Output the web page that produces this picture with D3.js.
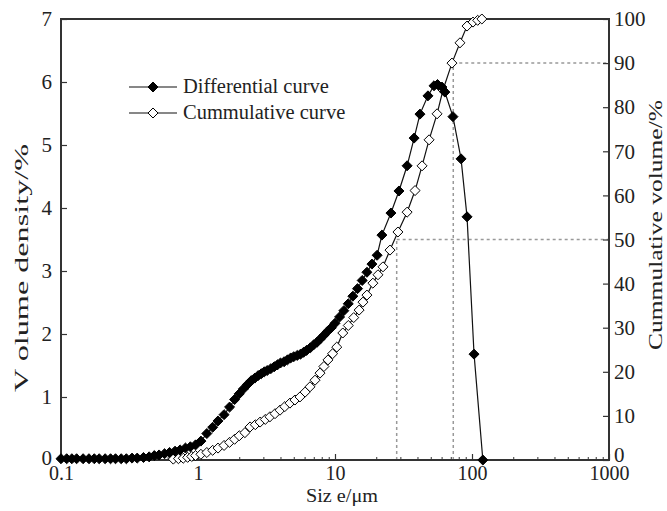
<!DOCTYPE html>
<html>
<head>
<meta charset="utf-8">
<title>Particle size distribution</title>
<script src="https://d3js.org/d3.v7.min.js"></script>
<style>
  body { margin: 0; background: #fff; }
  svg text { font-family: "Liberation Serif", "Times New Roman", serif; fill: #222; }
</style>
</head>
<body>
<div id="chart"></div>
<script>
// ---- data ----
var diffSize = [0.10, 0.11, 0.12, 0.13, 0.145, 0.16, 0.175, 0.19, 0.21, 0.23, 0.25, 0.275, 0.30, 0.33, 0.36,
  0.40, 0.44, 0.48, 0.52, 0.57, 0.62, 0.68, 0.74, 0.81, 0.88, 0.96, 1.05, 1.16, 1.28, 1.40, 1.55, 1.70,
  1.85, 2.00, 2.15, 2.30, 2.45, 2.60, 2.75, 2.90, 3.05, 3.20, 3.40, 3.60, 3.80, 4.00, 4.25, 4.50, 4.75,
  5.00, 5.30, 5.60, 5.90, 6.20, 6.60, 7.00, 7.40, 7.80, 8.30, 8.80, 9.40, 10.0, 10.8, 11.6, 12.5, 13.5,
  14.6, 15.8, 17.1, 18.6, 20.3, 22.0, 25.6, 29.3, 33.6, 37.8, 41.7, 47.7, 52.8, 56.0, 60.3, 63.4, 72.6,
  83.2, 92.0, 103.5, 120];
var diffValue = [0.02, 0.02, 0.02, 0.02, 0.02, 0.02, 0.02, 0.02, 0.02, 0.02, 0.02, 0.02, 0.02, 0.03, 0.03,
  0.04, 0.05, 0.07, 0.08, 0.10, 0.12, 0.14, 0.16, 0.19, 0.21, 0.24, 0.30, 0.42, 0.52, 0.62, 0.72, 0.84,
  0.96, 1.05, 1.13, 1.20, 1.26, 1.30, 1.34, 1.37, 1.40, 1.42, 1.45, 1.48, 1.51, 1.54, 1.56, 1.59, 1.62,
  1.64, 1.66, 1.68, 1.71, 1.74, 1.78, 1.83, 1.87, 1.92, 1.98, 2.04, 2.10, 2.17, 2.27, 2.37, 2.48, 2.60,
  2.72, 2.85, 2.98, 3.11, 3.25, 3.57, 3.92, 4.27, 4.67, 5.11, 5.49, 5.78, 5.94, 5.96, 5.92, 5.84, 5.45,
  4.78, 3.86, 1.68, 0.0];

var cumSize = [0.66, 0.72, 0.78, 0.84, 0.90, 0.96, 1.05, 1.16, 1.28, 1.40, 1.55, 1.70, 1.85, 2.00, 2.20,
  2.40, 2.62, 2.84, 3.10, 3.35, 3.65, 3.97, 4.30, 4.69, 5.10, 5.55, 6.05, 6.57, 7.15, 7.77, 8.30, 8.89,
  9.60, 10.3, 11.4, 12.5, 13.7, 15.0, 16.0, 17.1, 18.9, 20.6, 22.4, 25.2, 28.8, 33.6, 38.4, 43.2, 48.6,
  55.6, 61.4, 71.4, 81.7, 92.0, 101.7, 110, 118];
var cumValue = [0.2, 0.3, 0.4, 0.6, 0.8, 1.0, 1.3, 1.7, 2.2, 2.7, 3.3, 4.0, 4.7, 5.5, 6.2,
  7.5, 8.0, 8.6, 9.2, 9.8, 10.5, 11.3, 12.1, 12.9, 13.6, 14.3, 15.4, 16.6, 18.1, 19.7, 21.2, 22.7,
  24.1, 25.6, 28.8, 30.5, 32.3, 34.0, 35.8, 37.4, 40.1, 42.0, 43.8, 47.6, 51.7, 56.2, 61.1, 66.7, 72.6,
  78.5, 83.9, 90.0, 94.6, 98.4, 99.3, 99.7, 100];

var xTickValues = [0.1, 1, 10, 100, 1000];
var leftTicks = [0, 1, 2, 3, 4, 5, 6, 7];
var rightTicks = [0, 10, 20, 30, 40, 50, 60, 70, 80, 90, 100];
var refSize = [28.2, 73];     // d50, d90
var refCum = [50, 90];
var legendNames = ["Differential curve", "Cummulative curve"];

// ---- layout ----
var W = 667, H = 511;
var plotL = 61, plotR = 609, plotT = 19, plotB = 460;

var svg = d3.select("#chart").append("svg").attr("width", W).attr("height", H);

var x = d3.scaleLog().domain([0.1, 1000]).range([plotL, plotR]);
var yL = d3.scaleLinear().domain([0, 7]).range([plotB, plotT]);
var yR = d3.scaleLinear().domain([0, 100]).range([plotB, plotT]);

// dashed reference lines (d50, d90)
var refs = refSize.map(function (s, i) { return {s: s, c: refCum[i]}; });
var refG = svg.append("g").attr("stroke", "#999").attr("stroke-width", 1.5)
  .attr("stroke-dasharray", "3,3").attr("fill", "none");
refs.forEach(function (r) {
  refG.append("line").attr("x1", x(r.s)).attr("x2", x(r.s)).attr("y1", yR(0)).attr("y2", yR(r.c));
  refG.append("line").attr("x1", x(r.s)).attr("x2", plotR).attr("y1", yR(r.c)).attr("y2", yR(r.c));
});

// axes
var minor = x.ticks().filter(function (t) { return xTickValues.indexOf(t) < 0; });
svg.append("g").attr("transform", "translate(0," + plotB + ")")
  .call(d3.axisBottom(x).tickValues(minor).tickSize(-3).tickFormat(""))
  .call(function (g) { g.select(".domain").remove(); g.selectAll("line").attr("stroke", "#333"); });

var xAxis = svg.append("g").attr("transform", "translate(0," + plotB + ")")
  .call(d3.axisBottom(x).tickValues(xTickValues).tickSize(-6).tickPadding(6)
    .tickFormat(function (d) { return d < 1 ? d3.format(".1f")(d) : d3.format("d")(d); }));
var yAxisL = svg.append("g").attr("transform", "translate(" + plotL + ",0)")
  .call(d3.axisLeft(yL).tickValues(leftTicks).tickSize(-6).tickPadding(9).tickFormat(d3.format("d")));
var yAxisR = svg.append("g").attr("transform", "translate(" + plotR + ",0)")
  .call(d3.axisRight(yR).tickValues(rightTicks).tickSize(-6).tickPadding(5).tickFormat(d3.format("d")));

[xAxis, yAxisL, yAxisR].forEach(function (g) {
  g.select(".domain").remove();
  g.selectAll("line").attr("stroke", "#333").attr("stroke-width", 1.2);
  g.selectAll("text").attr("font-size", 21).attr("fill", "#222")
    .attr("font-family", '"Liberation Serif", "Times New Roman", serif');
});
xAxis.selectAll("text").attr("font-size", 20);
yAxisR.selectAll(".tick").filter(function (d) { return d === 0; }).select("text").attr("dy", "0.05em");
yAxisL.selectAll(".tick").filter(function (d) { return d === 0; }).select("text").attr("dy", "0.2em");

// frame
svg.append("rect").attr("x", plotL).attr("y", plotT).attr("width", plotR - plotL).attr("height", plotB - plotT)
  .attr("fill", "none").attr("stroke", "#333").attr("stroke-width", 2);

// axis titles
svg.append("text").attr("x", 342).attr("y", 502).attr("text-anchor", "middle")
  .attr("font-size", 18).attr("textLength", 72).attr("lengthAdjust", "spacingAndGlyphs").text("Siz e/μm");
svg.append("text").attr("transform", "translate(28,268) rotate(-90)").attr("text-anchor", "middle")
  .attr("font-size", 19).attr("textLength", 248).attr("lengthAdjust", "spacingAndGlyphs").text("V olume density/%");
svg.append("text").attr("transform", "translate(662,225) rotate(-90)").attr("text-anchor", "middle")
  .attr("font-size", 19).attr("textLength", 250).attr("lengthAdjust", "spacingAndGlyphs").text("Cummulative volume/%");

// series
var diamond = d3.symbol().type(d3.symbolDiamond2).size(64);
var diffData = diffSize.map(function (s, i) { return [s, diffValue[i]]; });
var cumData = cumSize.map(function (s, i) { return [s, cumValue[i]]; });

function drawSeries(data, yScale, filled) {
  var g = svg.append("g");
  g.append("path").datum(data).attr("fill", "none").attr("stroke", "#111").attr("stroke-width", 1.2)
    .attr("d", d3.line().x(function (d) { return x(d[0]); }).y(function (d) { return yScale(d[1]); }));
  g.selectAll("path.m").data(data).enter().append("path").attr("class", "m")
    .attr("transform", function (d) { return "translate(" + x(d[0]) + "," + yScale(d[1]) + ")"; })
    .attr("d", diamond)
    .attr("fill", filled ? "#000" : "#fff").attr("stroke", "#000").attr("stroke-width", 1);
}
drawSeries(cumData, yR, false);
drawSeries(diffData, yL, true);

// legend
var leg = svg.append("g");
legendNames.forEach(function (name, i) {
  var ly = 87 + i * 26;
  leg.append("line").attr("x1", 129).attr("x2", 177).attr("y1", ly).attr("y2", ly)
    .attr("stroke", "#111").attr("stroke-width", 1.2);
  leg.append("path").attr("transform", "translate(153," + ly + ")").attr("d", diamond)
    .attr("fill", i === 0 ? "#000" : "#fff").attr("stroke", "#000");
  leg.append("text").attr("x", 183).attr("y", ly + 6).attr("font-size", 20.5).text(name);
});
</script>
</body>
</html>
